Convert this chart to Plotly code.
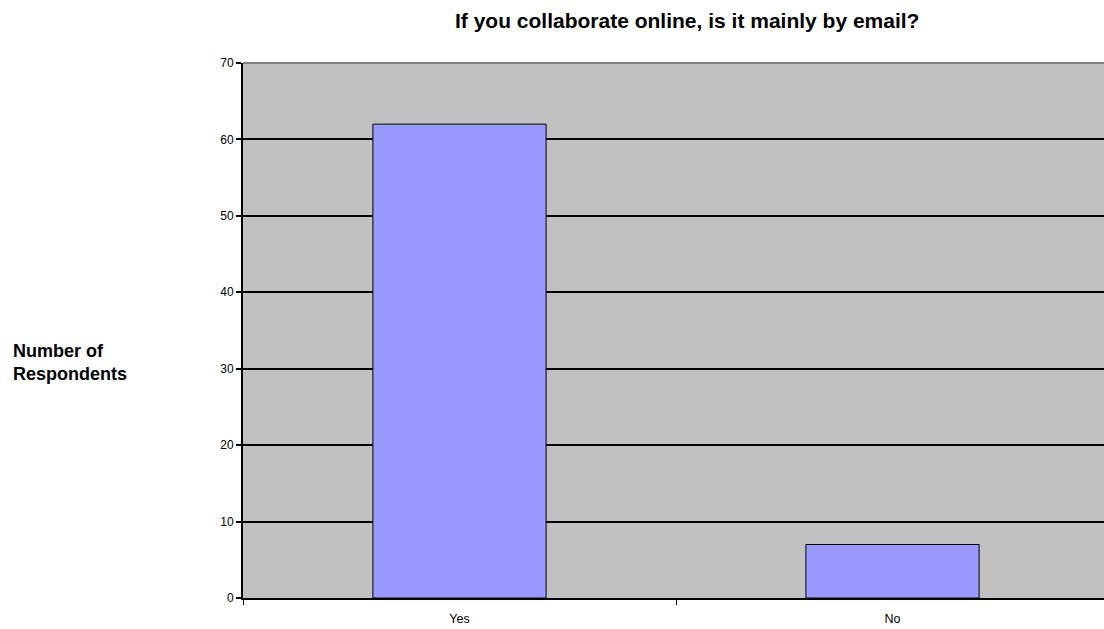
import plotly.graph_objects as go

categories = ["Yes", "No"]
respondents = [62, 7]
y_ticks = [0, 10, 20, 30, 40, 50, 60, 70]

title_text = "If you collaborate online, is it mainly by email?"
y_label = "Number of<br>Respondents"

fig = go.Figure(
    go.Bar(
        x=categories,
        y=respondents,
        width=0.4,
        marker=dict(color="#9999FF", line=dict(color="#000000", width=1)),
        hoverinfo="x+y",
    )
)

fig.update_layout(
    width=1104,
    height=629,
    margin=dict(l=243, r=0, t=63, b=31),
    paper_bgcolor="white",
    plot_bgcolor="#C0C0C0",
    font=dict(family="Liberation Sans, Arial, sans-serif", size=12, color="#000000"),
    showlegend=False,
    annotations=[
        dict(
            text="<b>" + title_text + "</b>",
            xref="paper", yref="paper",
            x=(687 - 243) / 861, y=1 + (63 - 21) / 535,
            xanchor="center", yanchor="middle",
            showarrow=False,
            font=dict(size=21),
        ),
        dict(
            text="<b>" + y_label + "</b>",
            xref="paper", yref="paper",
            x=-(243 - 11) / 861, y=(598 - 362) / 535,
            xanchor="left", yanchor="middle",
            align="left",
            showarrow=False,
            font=dict(size=18),
        ),
    ],
    shapes=[
        dict(
            type="line", xref="paper", yref="paper",
            x0=0, x1=1, y0=1, y1=1,
            line=dict(color="#808080", width=2),
        )
    ],
)

fig.update_xaxes(
    type="category",
    range=[-0.5, 1.5 - 5 / 433],
    tickson="boundaries",
    ticks="outside",
    ticklen=5,
    tickcolor="#000000",
    tickwidth=1,
    ticklabelstandoff=8,
    showline=True,
    linecolor="#000000",
    linewidth=2,
    showgrid=False,
    tickfont=dict(size=12.5),
    fixedrange=True,
)

fig.update_yaxes(
    range=[0, 70],
    tickvals=y_ticks,
    ticks="outside",
    ticklen=5,
    tickcolor="#000000",
    tickwidth=2,
    showline=True,
    linecolor="#000000",
    linewidth=2,
    showgrid=True,
    gridcolor="#000000",
    gridwidth=2,
    zeroline=False,
    tickfont=dict(size=12),
    fixedrange=True,
)

fig.write_html("out.html")
